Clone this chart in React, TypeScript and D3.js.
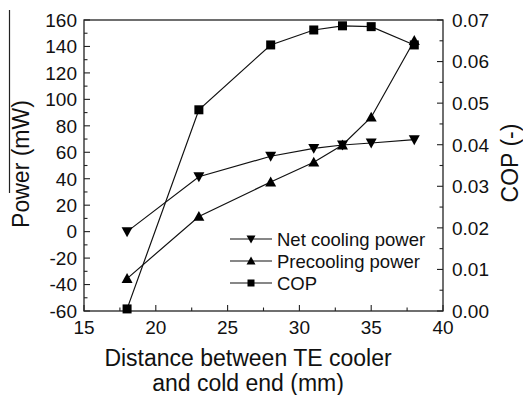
import React from "react";
import * as d3 from "d3";

const distances = [18, 23, 28, 31, 33, 35, 38];
const netCooling = [0, 41.5, 57, 63, 65.5, 67, 69.5];
const precooling = [-35.5, 11.5, 37.5, 52.5, 65.5, 86.5, 144.5];
const cop = [0.0005, 0.0484, 0.064, 0.0676, 0.0686, 0.0684, 0.064];

const xTicks = [15, 20, 25, 30, 35, 40];
const yTicks = [-60, -40, -20, 0, 20, 40, 60, 80, 100, 120, 140, 160];
const rTicks = [0, 0.01, 0.02, 0.03, 0.04, 0.05, 0.06, 0.07];
const legendLabels = ["Net cooling power", "Precooling power", "COP"];

const FONT = "'Liberation Sans', Arial, sans-serif";

export default function App() {
  const L = 84, R = 443, T = 20, B = 311;
  const x = d3.scaleLinear().domain([15, 40]).range([L, R]);
  const y = d3.scaleLinear().domain([-60, 160]).range([B, T]);
  const yr = d3.scaleLinear().domain([0, 0.07]).range([B, T]);

  const lineL = d3.line<number>().x((_, i) => x(distances[i])).y((d) => y(d));
  const lineR = d3.line<number>().x((_, i) => x(distances[i])).y((d) => yr(d));

  const triDown = (cx: number, cy: number, s: number) =>
    `M${cx - s / 2},${cy - s * 0.4}L${cx + s / 2},${cy - s * 0.4}L${cx},${cy + s * 0.5}Z`;
  const triUp = (cx: number, cy: number, s: number) =>
    `M${cx - s / 2},${cy + s * 0.4}L${cx + s / 2},${cy + s * 0.4}L${cx},${cy - s * 0.5}Z`;

  const xMinor = d3.range(15, 40.01, 2.5);
  const yMinor = d3.range(-60, 160.01, 10);
  const rMinor = d3.range(0, 0.0701, 0.005);

  const sw = 1.2;
  return (
    <svg width={523} height={395} style={{ position: "absolute", left: 0, top: 0, background: "#fff" }} fontFamily={FONT}>
      <rect width={523} height={395} fill="#fff" />
      {/* frame */}
      <rect x={L} y={T} width={R - L} height={B - T} fill="none" stroke="#222" strokeWidth={1.3} />
      {/* x ticks */}
      {xMinor.map((v) => {
        const major = Math.abs(v % 5) < 1e-6;
        return <line key={"x" + v} x1={x(v)} x2={x(v)} y1={B} y2={B - (major ? 6 : 3.5)} stroke="#222" strokeWidth={1.1} />;
      })}
      {xTicks.map((v) => (
        <text key={"xl" + v} x={x(v)} y={334} fontSize={19} textAnchor="middle" fill="#111">{v}</text>
      ))}
      {/* left y ticks */}
      {yMinor.map((v) => {
        const major = Math.abs(v % 20) < 1e-6;
        return <line key={"y" + v} x1={L} x2={L + (major ? 6 : 3.5)} y1={y(v)} y2={y(v)} stroke="#222" strokeWidth={1.1} />;
      })}
      {yTicks.map((v) => (
        <text key={"yl" + v} x={77} y={y(v)} dy="0.36em" fontSize={19} textAnchor="end" fill="#111">{v}</text>
      ))}
      {/* right y ticks */}
      {rMinor.map((v, i) => {
        const major = i % 2 === 0;
        return <line key={"r" + i} x1={R} x2={R - (major ? 6 : 3.5)} y1={yr(v)} y2={yr(v)} stroke="#222" strokeWidth={1.1} />;
      })}
      {rTicks.map((v) => (
        <text key={"rl" + v} x={452} y={yr(v)} dy="0.36em" fontSize={19} textAnchor="start" fill="#111">{v.toFixed(2)}</text>
      ))}
      {/* titles */}
      <text x={248} y={366} fontSize={23} textAnchor="middle" fill="#111">Distance between TE cooler</text>
      <text x={248} y={391} fontSize={23} textAnchor="middle" fill="#111">and cold end (mm)</text>
      <text transform="translate(29,164) rotate(-90)" fontSize={23} textAnchor="middle" fill="#111">Power (mW)</text>
      <line x1={9.5} x2={9.5} y1={10} y2={193} stroke="#222" strokeWidth={1.2} />
      <text transform="translate(517.5,163) rotate(-90)" fontSize={23} textAnchor="middle" fill="#111">COP (-)</text>
      {/* series lines */}
      <path d={lineL(netCooling) || ""} fill="none" stroke="#111" strokeWidth={sw} />
      <path d={lineL(precooling) || ""} fill="none" stroke="#111" strokeWidth={sw} />
      <path d={lineR(cop) || ""} fill="none" stroke="#111" strokeWidth={sw} />
      {/* markers */}
      {netCooling.map((v, i) => (
        <path key={"n" + i} d={triDown(x(distances[i]), y(v), 11)} fill="#000" />
      ))}
      {precooling.map((v, i) => (
        <path key={"p" + i} d={triUp(x(distances[i]), y(v), 11)} fill="#000" />
      ))}
      {cop.map((v, i) => (
        <rect key={"c" + i} x={x(distances[i]) - 4.5} y={yr(v) - 4.5} width={9} height={9} fill="#000" />
      ))}
      {/* legend */}
      {legendLabels.map((lab, i) => {
        const ly = 239 + i * 22;
        return (
          <g key={lab}>
            <line x1={230} x2={272} y1={ly} y2={ly} stroke="#111" strokeWidth={sw} />
            {i === 0 && <path d={triDown(251, ly, 9)} fill="#000" />}
            {i === 1 && <path d={triUp(251, ly, 9)} fill="#000" />}
            {i === 2 && <rect x={247.5} y={ly - 3.5} width={7} height={7} fill="#000" />}
            <text x={277} y={ly} dy="0.36em" fontSize={18.5} fill="#111">{lab}</text>
          </g>
        );
      })}
    </svg>
  );
}
